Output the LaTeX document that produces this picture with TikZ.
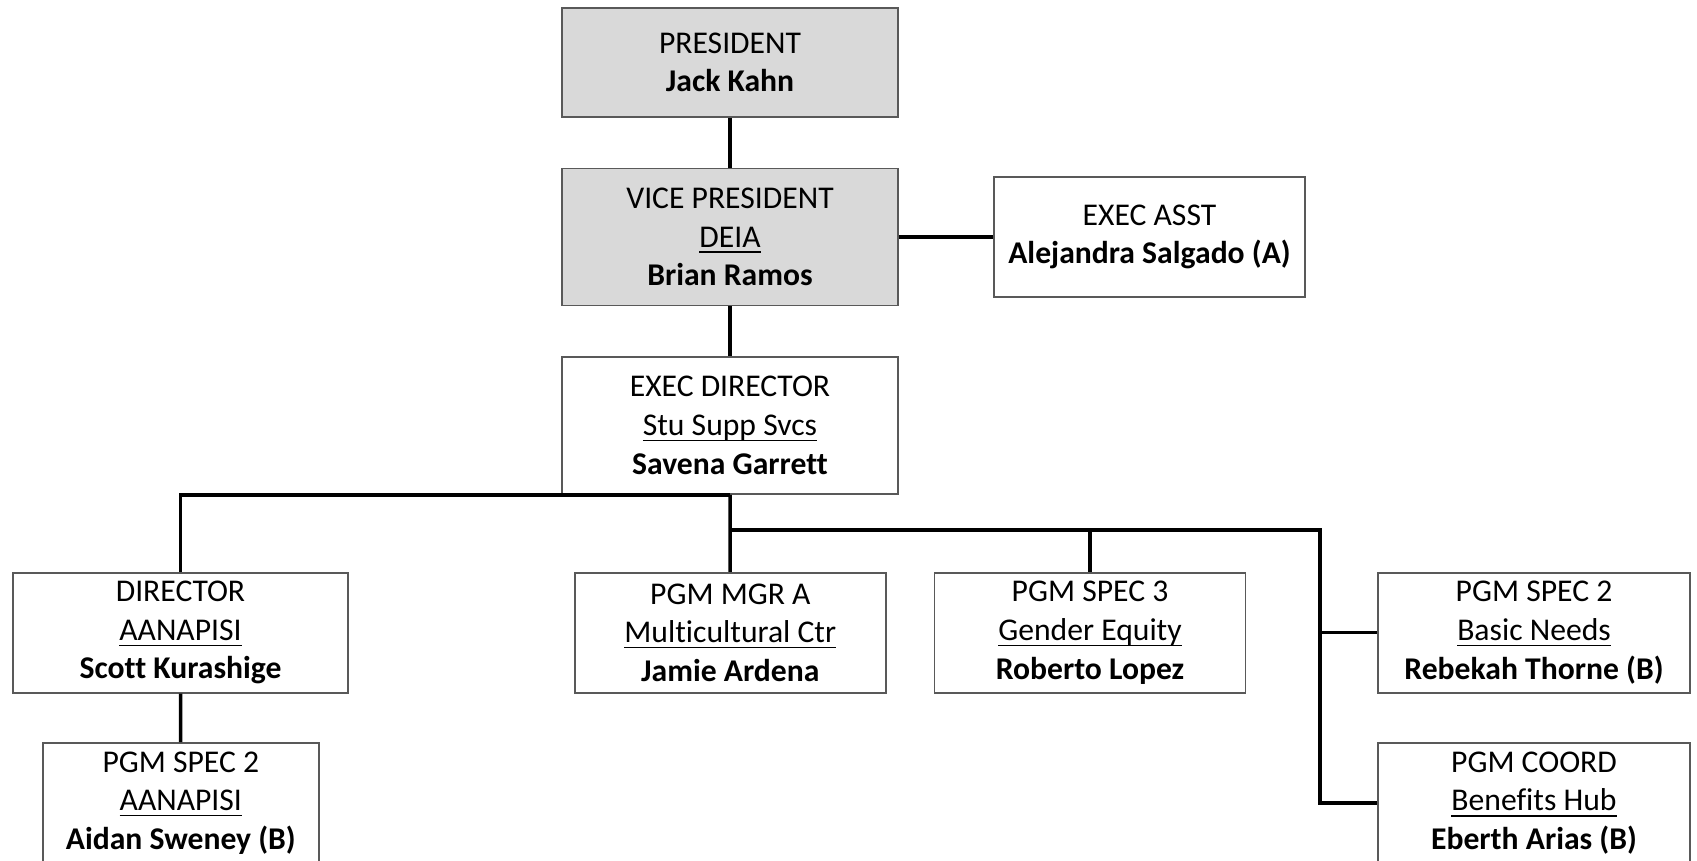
\documentclass[tikz,border=0pt]{standalone}
\usepackage{fontspec}
\setmainfont{Carlito}[Ligatures=NoCommon]
\usepackage{tikz}
\usetikzlibrary{calc}
\newcommand{\unit}[1]{\underline{\smash{#1}}}

\begin{document}
\begin{tikzpicture}[x=0.01cm, y=-0.01cm,
    post/.style={draw=black!65, line width=0.5pt, fill=white, align=center, inner sep=0pt,
        minimum width=3.11cm, minimum height=1.2cm, font=\fontsize{9pt}{11pt}\selectfont},
    boss/.style={post, fill=black!15, minimum width=3.36cm, minimum height=1.37cm},
    link/.style={line width=1pt}]
    \useasboundingbox (0,0) rectangle (1697,861);
    % top of the chart
    \node[boss, minimum height=1.09cm] (pres) at (730,62.5) {PRESIDENT\\\textbf{Jack Kahn}};
    \node[boss] (vp) at (730,237) {VICE PRESIDENT\\\unit{DEIA}\\\textbf{Brian Ramos}};
    \node[post] (asst) at (1149.5,237) {EXEC ASST\\\textbf{Alejandra Salgado (A)}};
    \node[post, minimum width=3.36cm, minimum height=1.37cm] (ed) at (730,425.5) {EXEC DIRECTOR\\\unit{Stu Supp Svcs}\\\textbf{Savena Garrett}};
    % programs
    \node[post, minimum width=3.35cm] (dir) at (180.5,632.7) {DIRECTOR\\\unit{AANAPISI}\\\textbf{Scott Kurashige}};
    \node[post] (mgr) at (730.3,632.7) {PGM MGR A\\\unit{Multicultural Ctr}\\\textbf{Jamie Ardena}};
    \node[post] (gender) at (1090,632.7) {PGM SPEC 3\\\unit{Gender Equity}\\\textbf{Roberto Lopez}};
    \node[post, minimum width=3.12cm] (needs) at (1534,632.7) {PGM SPEC 2\\\unit{Basic Needs}\\\textbf{Rebekah Thorne (B)}};
    \node[post, minimum width=2.76cm] (aan) at (180.8,803) {PGM SPEC 2\\\unit{AANAPISI}\\\textbf{Aidan Sweney (B)}};
    \node[post, minimum width=3.12cm] (hub) at (1534,803) {PGM COORD\\\unit{Benefits Hub}\\\textbf{Eberth Arias (B)}};

    \coordinate (split) at (730,530);
    \coordinate (turn) at (1320,530);

    \draw[link] (pres) -- (vp);
    \draw[link] (vp) -- (asst);
    \draw[link] (vp) -- (ed);
    \draw[link] (ed.south) -- (ed.south -| dir) -- (dir);
    \draw[link] (ed.south) -- (mgr);
    \draw[link] (split) -- (turn) -- (turn |- hub) -- (hub);
    \draw[link] (gender |- split) -- (gender);
    \draw[link] (turn |- needs) -- (needs);
    \draw[link] (dir) -- (aan);
\end{tikzpicture}
\end{document}
